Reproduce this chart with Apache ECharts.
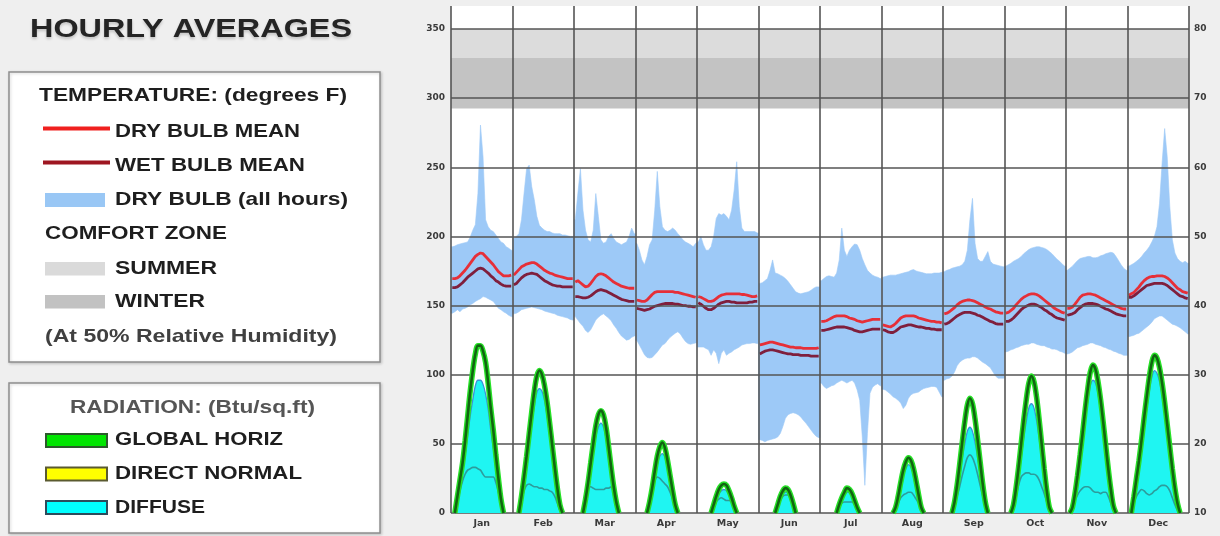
<!DOCTYPE html>
<html>
<head>
<meta charset="utf-8">
<title>Hourly Averages</title>
<script src="https://cdn.jsdelivr.net/npm/echarts@6/dist/echarts.min.js"></script>
<style>
  html, body { margin: 0; padding: 0; background: #efefef; }
  #chart { width: 1220px; height: 536px; }
</style>
</head>
<body>
<div id="chart"></div>
<script>
// ---------------------------------------------------------------------------
// Data: one row of 24 hourly values per month (Jan .. Dec)
// ---------------------------------------------------------------------------
const months = ['Jan', 'Feb', 'Mar', 'Apr', 'May', 'Jun', 'Jul', 'Aug', 'Sep', 'Oct', 'Nov', 'Dec'];
const radiationTicks = [0, 50, 100, 150, 200, 250, 300, 350];
const temperatureTicks = [10, 20, 30, 40, 50, 60, 70, 80];

// Comfort zone limits (degrees F, at 50% relative humidity)
const summerZone = [70, 80];
const winterZone = [68.5, 75.8];

// Dry bulb mean, degrees F
const dryBulbMean = [
  [43.9,43.9,44.0,44.3,44.7,45.1,45.6,46.1,46.6,47.1,47.4,47.6,47.5,47.1,46.7,46.3,45.9,45.4,44.9,44.6,44.3,44.3,44.3,44.4],
  [44.4,44.8,45.2,45.6,45.8,46.0,46.1,46.2,46.2,46.0,45.7,45.4,45.1,44.9,44.7,44.6,44.4,44.3,44.2,44.1,44.0,43.9,43.9,43.9],
  [43.4,43.6,43.3,43.0,42.7,42.8,43.2,43.7,44.2,44.5,44.6,44.5,44.3,44.0,43.7,43.4,43.2,43.0,42.8,42.7,42.6,42.5,42.5,42.5],
  [40.8,40.7,40.6,40.6,40.8,41.2,41.6,41.9,42.0,42.0,42.0,42.0,42.0,42.0,42.0,41.9,41.9,41.8,41.7,41.6,41.5,41.4,41.3,41.2],
  [41.3,41.2,41.0,40.8,40.6,40.6,40.7,41.0,41.3,41.5,41.6,41.7,41.7,41.7,41.7,41.7,41.7,41.6,41.6,41.5,41.4,41.3,41.3,41.4],
  [34.3,34.4,34.5,34.6,34.7,34.7,34.6,34.5,34.4,34.3,34.2,34.1,34.0,34.0,33.9,33.9,33.9,33.8,33.8,33.8,33.8,33.8,33.8,33.9],
  [37.7,37.7,37.8,38.0,38.2,38.4,38.5,38.5,38.5,38.5,38.4,38.2,38.1,38.0,37.8,37.7,37.6,37.7,37.8,37.9,38.0,38.0,38.0,38.0],
  [37.2,37.1,37.0,36.9,37.1,37.4,37.8,38.2,38.4,38.5,38.5,38.5,38.5,38.4,38.2,38.1,38.0,37.9,37.8,37.7,37.7,37.6,37.6,37.5],
  [38.8,38.9,39.1,39.4,39.7,40.1,40.4,40.6,40.7,40.8,40.8,40.7,40.6,40.4,40.2,40.0,39.8,39.6,39.5,39.3,39.1,39.0,38.9,38.9],
  [38.9,39.0,39.3,39.6,40.1,40.5,40.9,41.2,41.4,41.6,41.7,41.7,41.6,41.4,41.1,40.8,40.5,40.2,39.9,39.6,39.4,39.2,39.0,38.9],
  [39.6,39.6,39.8,40.2,40.7,41.2,41.5,41.6,41.7,41.7,41.6,41.5,41.3,41.1,40.9,40.7,40.5,40.3,40.1,39.9,39.8,39.6,39.5,39.5],
  [41.5,41.7,41.9,42.3,42.7,43.2,43.6,43.9,44.1,44.2,44.2,44.3,44.3,44.3,44.2,44.0,43.7,43.3,42.9,42.5,42.3,42.0,41.9,41.8]
];

// Wet bulb mean, degrees F
const wetBulbMean = [
  [42.6,42.6,42.7,43.0,43.3,43.7,44.1,44.4,44.7,45.0,45.3,45.4,45.3,45.0,44.7,44.3,44.0,43.6,43.4,43.1,42.9,42.8,42.8,42.8],
  [43.0,43.2,43.6,44.0,44.3,44.5,44.6,44.7,44.6,44.5,44.2,43.9,43.6,43.4,43.2,43.0,42.9,42.8,42.8,42.7,42.7,42.7,42.7,42.7],
  [41.3,41.3,41.2,41.1,41.1,41.2,41.4,41.7,42.0,42.2,42.3,42.2,42.1,41.9,41.7,41.5,41.3,41.1,40.9,40.8,40.7,40.6,40.6,40.6],
  [39.6,39.5,39.4,39.3,39.4,39.5,39.7,39.9,40.0,40.1,40.2,40.3,40.3,40.3,40.3,40.2,40.2,40.1,40.0,40.0,39.9,39.9,39.8,39.8],
  [40.4,40.2,39.9,39.6,39.4,39.4,39.6,39.9,40.2,40.4,40.5,40.6,40.6,40.5,40.5,40.4,40.4,40.4,40.4,40.4,40.5,40.5,40.6,40.6],
  [33.0,33.2,33.4,33.5,33.6,33.6,33.5,33.4,33.3,33.2,33.1,33.0,33.0,32.9,32.9,32.9,32.8,32.8,32.8,32.8,32.7,32.7,32.7,32.7],
  [36.4,36.4,36.5,36.6,36.7,36.8,36.9,36.9,36.9,36.9,36.8,36.7,36.6,36.4,36.3,36.2,36.2,36.3,36.4,36.5,36.6,36.6,36.6,36.6],
  [36.5,36.4,36.2,36.1,36.1,36.3,36.6,36.9,37.0,37.1,37.2,37.2,37.1,37.0,36.9,36.9,36.8,36.7,36.7,36.6,36.6,36.5,36.5,36.5],
  [37.3,37.4,37.6,37.9,38.2,38.5,38.7,38.9,39.0,39.0,39.0,38.9,38.8,38.6,38.5,38.3,38.1,37.9,37.7,37.6,37.4,37.3,37.3,37.3],
  [37.7,37.7,37.9,38.2,38.6,39.0,39.4,39.7,39.9,40.1,40.2,40.2,40.1,39.9,39.7,39.4,39.2,38.9,38.7,38.4,38.2,38.1,38.0,37.9],
  [38.6,38.7,38.8,39.0,39.4,39.7,40.0,40.2,40.3,40.3,40.3,40.2,40.1,39.9,39.7,39.5,39.4,39.2,39.0,38.8,38.7,38.6,38.5,38.5],
  [41.2,41.2,41.4,41.7,42.0,42.3,42.6,42.9,43.0,43.1,43.2,43.2,43.2,43.2,43.1,42.9,42.6,42.3,42.0,41.7,41.4,41.3,41.1,41.0]
];

// Dry bulb, all hours: upper envelope, degrees F
const dryBulbHigh = [
  [48.5,48.6,48.8,48.9,49.0,49.1,49.2,49.9,50.9,51.7,56.2,66.1,61.5,52.4,51.4,50.9,50.7,50.2,49.7,49.2,49.0,48.5,48.3,48.0],
  [49.7,50.0,50.4,52.4,56.2,59.8,60.3,57.2,55.3,52.9,51.6,51.2,50.9,50.7,50.7,50.5,50.4,50.4,50.4,50.2,50.2,50.1,50.0,50.0],
  [52.4,56.2,59.8,53.8,50.9,49.5,49.2,50.9,56.2,52.9,49.5,49.0,49.2,50.0,50.4,49.7,49.2,49.0,48.8,49.0,49.2,50.0,51.2,50.4],
  [49.0,48.0,46.6,45.9,47.1,48.8,49.5,53.8,59.4,54.3,51.4,50.9,50.7,50.9,51.2,50.9,50.4,50.0,49.5,49.2,49.0,48.8,48.5,49.0],
  [49.2,50.0,48.8,48.0,48.0,48.5,50.0,52.6,53.3,53.1,53.3,52.9,52.4,53.8,56.7,60.8,54.3,51.2,50.7,50.7,50.7,50.7,50.7,50.5],
  [43.2,43.3,43.6,43.9,45.1,46.6,44.7,44.6,44.4,44.2,43.9,43.5,43.0,42.5,42.0,41.8,41.7,41.8,41.9,42.0,42.2,42.5,42.7,42.7],
  [43.6,43.9,44.2,44.3,44.2,44.1,44.7,46.6,51.2,48.0,47.1,48.0,48.5,48.9,48.8,48.0,46.8,45.9,45.1,44.7,44.4,44.2,44.1,43.9],
  [44.1,44.2,44.3,44.4,44.4,44.4,44.5,44.6,44.7,44.8,44.9,45.1,45.2,45.0,44.9,44.8,44.7,44.6,44.6,44.6,44.7,44.7,44.7,44.8],
  [44.9,45.1,45.2,45.4,45.5,45.6,45.7,45.9,46.4,48.0,52.4,55.5,49.0,46.8,46.4,46.4,47.1,47.8,46.4,46.0,45.9,45.8,45.7,45.6],
  [45.7,45.9,46.1,46.4,46.6,46.8,47.1,47.5,47.8,48.1,48.3,48.4,48.5,48.5,48.4,48.3,48.1,47.8,47.5,47.1,46.7,46.4,46.0,45.7],
  [45.1,45.4,45.7,46.1,46.5,46.8,46.9,47.0,47.1,47.1,46.9,46.9,47.0,47.2,47.3,47.5,47.6,47.7,47.6,47.1,46.5,45.9,45.4,45.1],
  [45.7,45.9,46.1,46.4,46.7,47.1,47.6,48.0,48.5,49.2,50.0,51.4,54.8,60.6,65.6,61.5,54.3,49.5,47.6,46.8,46.4,46.2,46.4,46.1]
];

// Dry bulb, all hours: lower envelope, degrees F
const dryBulbLow = [
  [38.9,39.1,39.4,39.1,39.5,39.6,39.8,40.1,40.3,40.6,40.8,41.0,41.3,41.2,41.0,40.8,40.6,40.1,39.6,39.4,39.1,38.9,38.6,38.4],
  [38.8,38.9,39.1,39.4,39.5,39.6,39.7,39.8,39.7,39.6,39.5,39.4,39.2,39.1,39.0,38.9,38.8,38.6,38.5,38.4,38.3,38.2,38.0,37.9],
  [38.4,37.9,37.4,37.0,36.4,36.1,36.5,37.2,37.9,38.3,38.6,38.8,38.5,38.2,37.8,37.2,36.7,36.1,35.6,35.3,35.0,35.1,35.4,35.6],
  [35.0,34.3,33.6,32.9,32.5,32.4,32.5,32.9,33.3,33.8,34.3,34.5,35.0,35.4,35.7,36.0,36.2,35.9,35.3,34.8,34.5,34.4,34.5,34.6],
  [34.0,34.0,34.0,33.8,33.6,32.8,33.6,33.1,31.6,33.1,33.6,32.8,33.1,33.3,33.6,33.8,34.0,34.3,34.4,34.5,34.5,34.6,34.6,34.5],
  [20.6,20.5,20.3,20.5,20.6,20.7,20.8,21.0,21.5,22.5,23.7,24.2,24.4,24.5,24.4,24.2,23.9,23.4,23.0,22.5,22.0,21.5,21.1,20.9],
  [28.8,28.3,28.0,28.2,28.4,28.5,28.8,29.0,29.2,29.0,28.8,29.0,29.2,28.8,27.8,26.3,21.0,14.0,21.5,27.3,28.2,28.5,28.7,28.4],
  [27.9,27.8,27.5,27.2,26.8,26.6,26.3,25.9,25.1,25.6,26.6,27.1,27.3,27.4,27.5,27.8,28.0,28.1,28.2,28.3,28.3,28.2,27.5,26.8],
  [29.2,29.4,29.5,29.8,30.4,31.3,31.8,32.1,32.3,32.4,32.4,32.6,32.6,32.4,32.1,31.8,31.6,31.3,31.0,30.4,29.8,29.5,29.5,29.5],
  [33.3,33.4,33.6,33.7,33.9,34.0,34.2,34.3,34.4,34.4,34.6,34.6,34.4,34.3,34.2,34.2,34.0,33.9,33.7,33.7,33.6,33.4,33.3,33.1],
  [33.0,33.1,33.3,33.6,33.9,34.0,34.2,34.3,34.4,34.6,34.6,34.4,34.3,34.2,34.0,33.9,33.7,33.6,33.4,33.3,33.1,33.0,32.8,32.8],
  [35.5,35.6,35.7,35.9,36.0,36.3,36.6,36.9,37.2,37.6,38.1,38.3,38.5,38.5,38.2,37.9,37.6,37.3,37.2,37.0,36.8,36.5,36.2,35.9]
];

// Global horizontal radiation, Btu/sq.ft (null = no sun)
const globalHoriz = [
  [null,0,12,24,36,52,70,88,103,115,121,121,117,109,94,76,60,42,25,10,0,null,null,null],
  [null,null,0,12,26,41,57,73,88,99,103,100,92,80,65,49,33,18,6,0,null,null,null,null],
  [null,null,null,0,10,22,36,50,63,71,74,71,62,48,33,19,8,0,null,null,null,null,null,null],
  [null,null,null,null,0,8,18,30,41,48,51,47,38,27,16,6,0,null,null,null,null,null,null,null],
  [null,null,null,null,null,0,6,12,17,20,21,20,16,11,5,0,null,null,null,null,null,null,null,null],
  [null,null,null,null,null,null,0,6,12,16,18,17,13,7,0,null,null,null,null,null,null,null,null,null],
  [null,null,null,null,null,null,0,6,11,15,18,17,14,9,4,0,null,null,null,null,null,null,null,null],
  [null,null,null,null,0,4,12,22,31,37,40,38,32,23,13,4,0,null,null,null,null,null,null,null],
  [null,null,null,0,8,20,35,51,66,78,83,79,68,53,37,21,8,0,null,null,null,null,null,null],
  [null,null,0,6,18,33,50,67,82,94,99,95,84,68,50,32,16,4,0,null,null,null,null,null],
  [null,0,4,14,27,42,58,75,90,102,107,104,95,82,66,49,32,17,5,0,null,null,null,null],
  [null,0,12,25,38,53,69,84,98,109,114,112,105,94,80,64,48,32,18,7,0,null,null,null]
];

// Diffuse radiation (filled area), Btu/sq.ft
const diffuseFill = [
  [null,0,9,19,29,42,56,70,82,92,96,96,93,86,75,60,47,33,19,8,0,null,null,null],
  [null,null,0,10,22,36,50,64,77,87,90,88,81,70,57,43,29,16,5,0,null,null,null,null],
  [null,null,null,0,9,19,31,43,55,62,65,62,54,42,29,17,7,0,null,null,null,null,null,null],
  [null,null,null,null,0,7,16,26,35,41,43,40,33,23,14,5,0,null,null,null,null,null,null,null],
  [null,null,null,null,null,0,5,10,14,16,17,16,13,9,4,0,null,null,null,null,null,null,null,null],
  [null,null,null,null,null,null,0,5,10,14,15,15,11,6,0,null,null,null,null,null,null,null,null,null],
  [null,null,null,null,null,null,0,5,9,13,15,15,12,8,3,0,null,null,null,null,null,null,null,null],
  [null,null,null,null,0,3,10,19,27,32,35,33,28,20,11,3,0,null,null,null,null,null,null,null],
  [null,null,null,0,7,16,27,39,50,59,62,59,51,40,28,16,6,0,null,null,null,null,null,null],
  [null,null,0,5,14,26,40,54,66,76,79,76,67,54,40,26,13,3,0,null,null,null,null,null],
  [null,0,4,12,24,37,52,67,81,92,96,94,86,74,59,44,29,15,4,0,null,null,null,null],
  [null,0,10,21,33,47,61,75,88,98,103,101,95,85,72,58,43,29,16,6,0,null,null,null]
];

// Diffuse radiation (inner trace), Btu/sq.ft
const diffuseLine = [
  [null,0,8,16,23,28,31,32,33,33,32,31,28,26,26,26,26,22,15,7,0,null,null,null],
  [null,null,0,9,16,20,21,20,19,19,18,18,17,17,16,15,12,7,2,0,null,null,null,null],
  [null,null,null,0,10,18,19,18,17,17,17,17,18,18,19,14,7,0,null,null,null,null,null,null],
  [null,null,null,null,0,8,16,23,26,25,23,21,19,15,10,4,0,null,null,null,null,null,null,null],
  [null,null,null,null,null,0,4,8,10,11,10,9,9,8,4,0,null,null,null,null,null,null,null,null],
  [null,null,null,null,null,null,0,5,9,12,13,13,10,5,0,null,null,null,null,null,null,null,null,null],
  [null,null,null,null,null,null,0,4,7,8,8,8,8,6,3,0,null,null,null,null,null,null,null,null],
  [null,null,null,null,0,3,7,11,13,14,15,15,13,10,7,3,0,null,null,null,null,null,null,null],
  [null,null,null,0,6,12,19,27,34,40,42,40,35,28,20,12,5,0,null,null,null,null,null,null],
  [null,null,0,5,12,20,26,28,29,29,28,28,27,24,19,14,8,3,0,null,null,null,null,null],
  [null,0,4,9,13,16,18,19,19,18,16,15,15,14,15,15,12,7,2,0,null,null,null,null],
  [null,0,7,12,15,17,16,14,13,14,16,17,19,20,20,19,16,11,6,2,0,null,null,null]
];

// ---------------------------------------------------------------------------
// Helpers
// ---------------------------------------------------------------------------
const HOURS = 24;
const X_MAX = months.length * HOURS;
const RAD_MAX = 366.6;                       // left axis top
const TEMP_MIN = 10;
const TEMP_MAX = TEMP_MIN + RAD_MAX / 5;     // right axis shares the plot height

const slotX = (m, h) => m * HOURS + h + 0.5;

// Flatten month rows into [x, y] points, breaking the line between months
function toPoints(rows) {
  const out = [];
  rows.forEach((row, m) => {
    row.forEach((v, h) => out.push([slotX(m, h), v]));
    out.push([(m + 1) * HOURS, null]);
  });
  return out;
}

const FONT = '"Liberation Sans", Arial, Helvetica, sans-serif';
const AXIS_FONT = '"DejaVu Sans", Verdana, sans-serif';
const measureCtx = document.createElement('canvas').getContext('2d');

// Bold label stretched to span x0..x1, vertically centred on yc
function label(str, x0, x1, yc, size, color, extra) {
  measureCtx.font = 'bold ' + size + 'px ' + FONT;
  const w = measureCtx.measureText(str).width;
  return {
    type: 'text', x: x0, y: yc, scaleX: (x1 - x0) / w, silent: true, z: 10,
    style: Object.assign({
      text: str, fill: color, fontSize: size, fontWeight: 'bold', fontFamily: FONT,
      align: 'left', verticalAlign: 'middle', textAlign: 'left', textVerticalAlign: 'middle'
    }, extra || {})
  };
}

function box(x, y, w, h) {
  return {
    type: 'rect', silent: true, z: 5,
    shape: { x: x, y: y, width: w, height: h },
    style: { fill: '#ffffff', stroke: '#8e8e8e', lineWidth: 1.5,
             shadowColor: 'rgba(0,0,0,0.18)', shadowBlur: 3, shadowOffsetX: 1, shadowOffsetY: 1 }
  };
}

function swatch(x, y, w, h, fill, stroke) {
  return {
    type: 'rect', silent: true, z: 10,
    shape: { x: x, y: y, width: w, height: h },
    style: stroke ? { fill: fill, stroke: stroke, lineWidth: 2 } : { fill: fill }
  };
}

function swatchLine(y, color) {
  return {
    type: 'line', silent: true, z: 10,
    shape: { x1: 43, y1: y, x2: 110, y2: y },
    style: { stroke: color, lineWidth: 4 }
  };
}

const TEXT = '#1e1e1e';

const graphics = [
  label('HOURLY AVERAGES', 30, 352, 29.5, 26, '#242424',
        { textShadowColor: 'rgba(0,0,0,0.2)', textShadowBlur: 3, textShadowOffsetY: 2 }),

  box(9, 72, 371, 290),
  label('TEMPERATURE: (degrees F)', 39, 347, 96, 18.5, TEXT),
  swatchLine(128.5, '#f0201e'),
  label('DRY BULB MEAN', 115, 300, 131.5, 18.5, TEXT),
  swatchLine(162.5, '#9e1621'),
  label('WET BULB MEAN', 115, 305, 166, 18.5, TEXT),
  swatch(45, 193, 60, 14, '#99c7f5'),
  label('DRY BULB (all hours)', 115, 348, 200, 18.5, TEXT),
  label('COMFORT ZONE', 45, 227, 234, 18.5, TEXT),
  swatch(45, 262, 60, 13.5, '#dadada'),
  label('SUMMER', 115, 217, 268.8, 18.5, TEXT),
  swatch(45, 295, 60, 13.5, '#c2c2c2'),
  label('WINTER', 115, 205, 302, 18.5, TEXT),
  label('(At 50% Relative Humidity)', 45, 337, 336.5, 18.5, '#404040'),

  box(9, 383, 371, 150),
  label('RADIATION: (Btu/sq.ft)', 70, 315, 408.3, 18.5, '#555555'),
  swatch(46, 434, 61, 13, '#00e600', '#2c5a2c'),
  label('GLOBAL HORIZ', 115, 283, 440, 18.5, TEXT),
  swatch(46, 467.5, 61, 13, '#ffff00', '#5a5a30'),
  label('DIRECT NORMAL', 115, 302, 473.5, 18.5, TEXT),
  swatch(46, 501, 61, 13, '#00ffff', '#2c4c5c'),
  label('DIFFUSE', 115, 205, 507.5, 18.5, TEXT)
];

// ---------------------------------------------------------------------------
// Chart
// ---------------------------------------------------------------------------
const axisLabelStyle = { fontSize: 9, fontWeight: 'bold', color: '#3a3a3a', fontFamily: AXIS_FONT };
const RAD_SMOOTH = 0.35;

const chart = echarts.init(document.getElementById('chart'), null, { renderer: 'canvas' });

chart.setOption({
  animation: false,
  backgroundColor: '#efefef',
  graphic: graphics,
  grid: {
    left: 451, right: 31, top: 6, bottom: 23,
    show: true, backgroundColor: '#ffffff', borderWidth: 0
  },
  xAxis: {
    type: 'value', min: 0, max: X_MAX, interval: HOURS / 2,
    axisLine: { show: false }, axisTick: { show: false }, splitLine: { show: false },
    axisLabel: Object.assign({
      margin: 6,
      formatter: v => (v % HOURS === HOURS / 2) ? months[(v - HOURS / 2) / HOURS] : ''
    }, axisLabelStyle, { fontSize: 9.5 })
  },
  yAxis: [
    {
      type: 'value', min: 0, max: RAD_MAX, interval: 50, position: 'left',
      axisLine: { show: false }, axisTick: { show: false }, splitLine: { show: false },
      axisLabel: Object.assign({
        margin: 6,
        formatter: v => radiationTicks.indexOf(v) >= 0 ? String(v) : ''
      }, axisLabelStyle)
    },
    {
      type: 'value', min: TEMP_MIN, max: TEMP_MAX, interval: 10, position: 'right',
      axisLine: { show: false }, axisTick: { show: false }, splitLine: { show: false },
      axisLabel: Object.assign({
        margin: 5,
        formatter: v => temperatureTicks.indexOf(v) >= 0 ? String(v) : ''
      }, axisLabelStyle)
    }
  ],
  series: [
    // comfort zones
    {
      type: 'line', yAxisIndex: 1, data: [], z: 1, silent: true,
      markArea: {
        silent: true,
        data: [
          [{ xAxis: 0, yAxis: summerZone[0], itemStyle: { color: '#dcdcdc' } },
           { xAxis: X_MAX, yAxis: summerZone[1] }],
          [{ xAxis: 0, yAxis: winterZone[0], itemStyle: { color: '#c3c3c3' } },
           { xAxis: X_MAX, yAxis: winterZone[1] }]
        ]
      }
    },
    // grid lines
    {
      type: 'line', data: [], z: 2, silent: true,
      markLine: {
        silent: true, symbol: 'none', label: { show: false },
        lineStyle: { color: '#555555', width: 1.6, type: 'solid' },
        data: radiationTicks.map(v => ({ yAxis: v }))
          .concat(months.map((_, m) => ({ xAxis: m * HOURS })))
          .concat([{ xAxis: X_MAX }])
      }
    },
    // dry bulb, all hours
    {
      type: 'custom', yAxisIndex: 1, z: 3, silent: true,
      data: months.map((_, m) => [m * HOURS + HOURS / 2, dryBulbMean[m][12]]),
      renderItem: function (params, api) {
        const m = params.dataIndex;
        const hi = dryBulbHigh[m];
        const lo = dryBulbLow[m];
        const pts = [api.coord([m * HOURS, hi[0]])];
        hi.forEach((v, h) => pts.push(api.coord([slotX(m, h), v])));
        pts.push(api.coord([(m + 1) * HOURS, hi[HOURS - 1]]));
        pts.push(api.coord([(m + 1) * HOURS, lo[HOURS - 1]]));
        for (let h = HOURS - 1; h >= 0; h--) pts.push(api.coord([slotX(m, h), lo[h]]));
        pts.push(api.coord([m * HOURS, lo[0]]));
        return {
          type: 'polygon',
          shape: { points: pts },
          style: { fill: '#9dc9f7', stroke: '#9dc9f7', lineWidth: 0.6 }
        };
      }
    },
    // dry bulb mean
    {
      name: 'DRY BULB MEAN', type: 'line', yAxisIndex: 1, z: 4, silent: true,
      data: toPoints(dryBulbMean), symbol: 'none', connectNulls: false,
      lineStyle: { color: '#e62f38', width: 2.8 }
    },
    // wet bulb mean
    {
      name: 'WET BULB MEAN', type: 'line', yAxisIndex: 1, z: 4, silent: true,
      data: toPoints(wetBulbMean), symbol: 'none', connectNulls: false,
      lineStyle: { color: '#7f1f3d', width: 2.8 }
    },
    // global horizontal: opaque backing under the fills
    {
      type: 'line', z: 5, silent: true, data: toPoints(globalHoriz), symbol: 'none',
      smooth: RAD_SMOOTH, lineStyle: { width: 0 },
      areaStyle: { color: '#ffffff', opacity: 1 }
    },
    // diffuse fill
    {
      name: 'DIFFUSE', type: 'line', z: 6, silent: true, data: toPoints(diffuseFill), symbol: 'none',
      smooth: RAD_SMOOTH, lineStyle: { color: '#3a93d6', width: 1.3 },
      areaStyle: { color: '#1ff5f2', opacity: 1 }
    },
    // diffuse inner trace
    {
      type: 'line', z: 7, silent: true, data: toPoints(diffuseLine), symbol: 'none',
      smooth: RAD_SMOOTH, lineStyle: { color: '#2d9c9c', width: 1.6 }
    },
    // global horizontal outline (halo + core)
    {
      type: 'line', z: 8, silent: true, data: toPoints(globalHoriz), symbol: 'none',
      smooth: RAD_SMOOTH, lineStyle: { color: '#27e027', width: 5.5 }
    },
    {
      name: 'GLOBAL HORIZ', type: 'line', z: 9, silent: true, data: toPoints(globalHoriz), symbol: 'none',
      smooth: RAD_SMOOTH, lineStyle: { color: '#116411', width: 2.6 }
    }
  ]
});
</script>
</body>
</html>
